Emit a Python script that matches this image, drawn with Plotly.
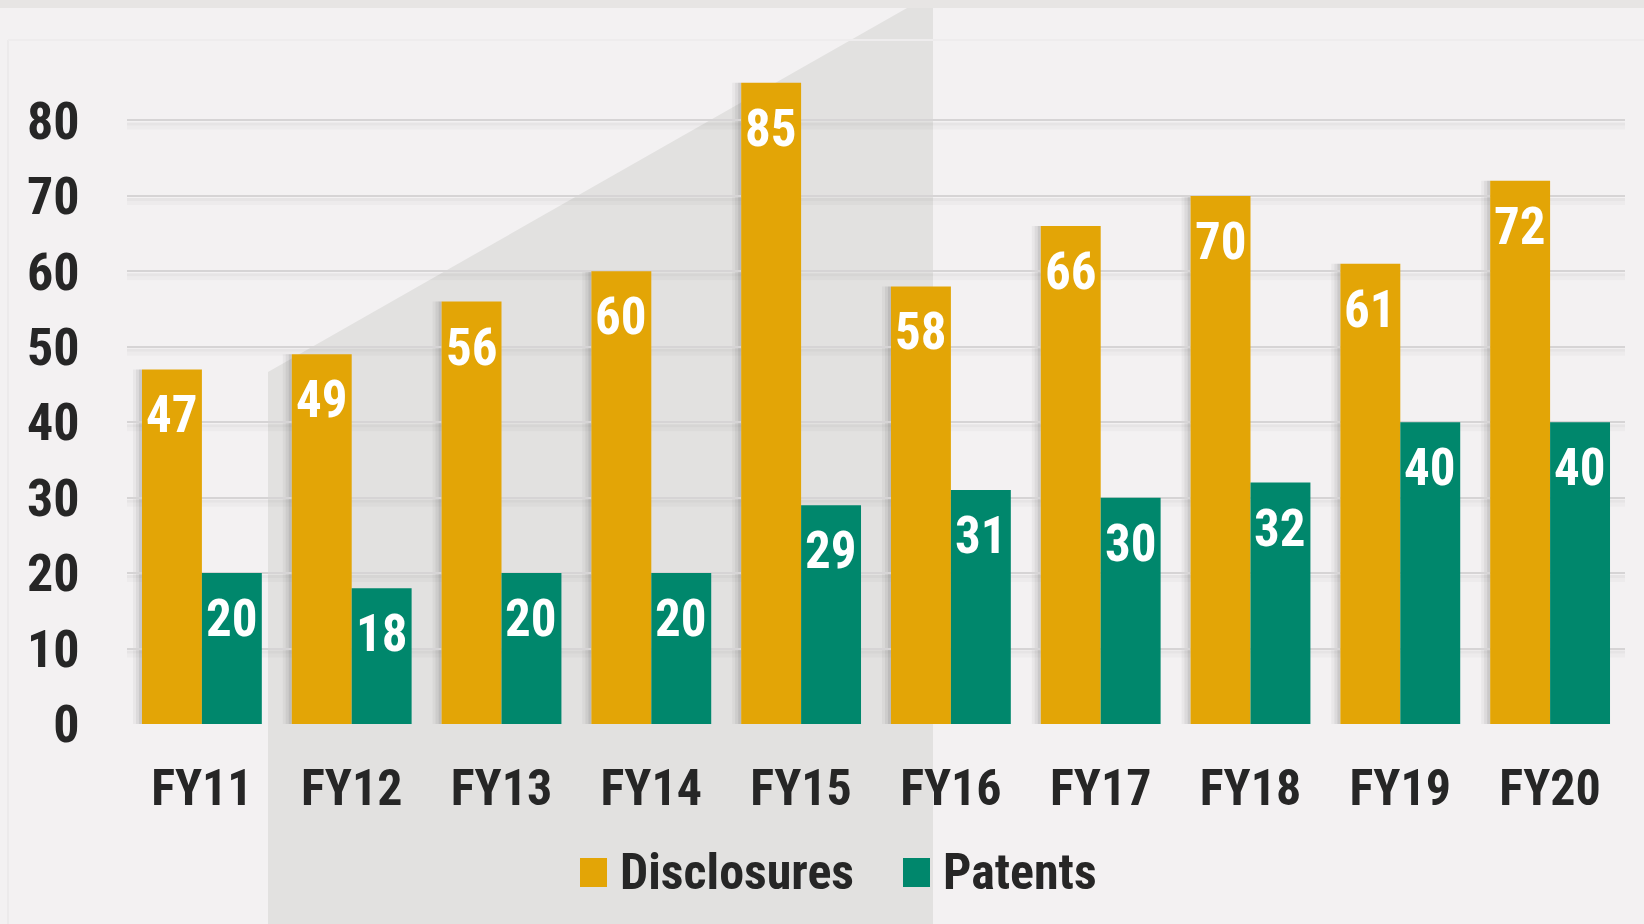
import plotly.graph_objects as go

# Fiscal-year invention disclosures and issued patents
years = ["FY11", "FY12", "FY13", "FY14", "FY15", "FY16", "FY17", "FY18", "FY19", "FY20"]
disclosures = [47, 49, 56, 60, 85, 58, 66, 70, 61, 72]
patents = [20, 18, 20, 20, 29, 31, 30, 32, 40, 40]
y_ticks = [0, 10, 20, 30, 40, 50, 60, 70, 80]

ORANGE = "#E3A506"
GREEN = "#00876C"
INK = "#262626"
BG = "#F3F1F2"
FONT = "Roboto Condensed, Liberation Sans Narrow, Liberation Sans, Arial, sans-serif"

W, H = 1644, 924
ML, MR, MT, MB = 127, 19, 45, 200
PW, PH = W - ML - MR, H - MT - MB
BARGAP = 0.2


def xp(px):
    return (px - ML) / PW


def yp(py):
    return (H - MB - py) / PH


fig = go.Figure()
fig.add_trace(go.Bar(name="Disclosures", x=years, y=disclosures,
                     marker=dict(color=ORANGE, line=dict(width=0)), showlegend=False))
fig.add_trace(go.Bar(name="Patents", x=years, y=patents,
                     marker=dict(color=GREEN, line=dict(width=0)), showlegend=False))

shapes = []
# top strip and angled grey backdrop
shapes.append(dict(type="rect", xref="paper", yref="paper", x0=xp(0), x1=xp(W),
                   y0=yp(8), y1=yp(0), fillcolor="#E7E5E4", line=dict(width=0), layer="below"))
shapes.append(dict(type="path", xref="paper", yref="paper", layer="below",
                   path=f"M {xp(268)},{yp(372)} L {xp(907)},{yp(8)} L {xp(933)},{yp(8)} "
                        f"L {xp(933)},{yp(H)} L {xp(268)},{yp(H)} Z",
                   fillcolor="#E2E1E0", line=dict(width=0)))
# faint inner panel edge
shapes.append(dict(type="line", xref="paper", yref="paper", x0=xp(8), x1=xp(8),
                   y0=yp(40), y1=yp(H), line=dict(color="#ECEAEB", width=2), layer="below"))
shapes.append(dict(type="line", xref="paper", yref="paper", x0=xp(8), x1=xp(W),
                   y0=yp(40), y1=yp(40), line=dict(color="#EEECED", width=2), layer="below"))

# soft shadow under each gridline
for t in y_ticks:
    for off, a in [((-2, -5), 0.05), ((-5, -9), 0.025)]:
        shapes.append(dict(type="rect", xref="paper", yref="y", ysizemode="pixel",
                           yanchor=t, y0=off[0], y1=off[1], x0=0, x1=1,
                           fillcolor=f"rgba(0,0,0,{a})", line=dict(width=0), layer="below"))

# shadow along the left side of each bar pair
slot = PW / len(years)
group = slot * (1 - BARGAP)
half = group / 2
for i, v in enumerate(disclosures):
    for off, a in [((-half - 3, -half), 0.22), ((-half - 6, -half - 3), 0.12), ((-half - 9, -half - 6), 0.05)]:
        shapes.append(dict(type="rect", xref="x", yref="y", xsizemode="pixel", xanchor=i,
                           x0=off[0], x1=off[1], y0=0, y1=v,
                           fillcolor=f"rgba(60,60,60,{a})", line=dict(width=0), layer="below"))

# custom legend
legend_items = [("Disclosures", ORANGE, 580), ("Patents", GREEN, 903)]
annotations = []
for name, col, px in legend_items:
    shapes.append(dict(type="rect", xref="paper", yref="paper", x0=xp(px), x1=xp(px + 27),
                       y0=yp(887), y1=yp(858), fillcolor=col, line=dict(width=0)))
    annotations.append(dict(xref="paper", yref="paper", x=xp(px + 38), y=yp(872),
                            xanchor="left", yanchor="middle", text=name, showarrow=False,
                            font=dict(family=FONT, size=50, color=INK, weight=700)))

# value labels inside the top of each bar
for series, shift in [(disclosures, -group / 4), (patents, group / 4)]:
    for cat, v in zip(years, series):
        annotations.append(dict(x=cat, y=v, xref="x", yref="y", xshift=shift, yshift=-14,
                                xanchor="center", yanchor="top", text=str(v), showarrow=False,
                                font=dict(family=FONT, size=51, color="white", weight=700)))

fig.update_layout(
    width=W, height=H,
    margin=dict(l=ML, r=MR, t=MT, b=MB, pad=0),
    paper_bgcolor=BG, plot_bgcolor="rgba(0,0,0,0)",
    barmode="group", bargap=BARGAP, bargroupgap=0,
    shapes=shapes, annotations=annotations,
    showlegend=False,
    xaxis=dict(showgrid=False, zeroline=False, showline=False,
               ticks="outside", ticklen=20, tickcolor="rgba(0,0,0,0)",
               tickfont=dict(family=FONT, size=50, color=INK, weight=700)),
    yaxis=dict(range=[0, 90], tickvals=y_ticks, showgrid=True, gridcolor="#D6D4D5",
               gridwidth=2, zeroline=False, showline=False,
               ticks="outside", ticklen=36, tickcolor="rgba(0,0,0,0)",
               tickfont=dict(family=FONT, size=52, color=INK, weight=700)),
)

fig.write_html("out.html")
